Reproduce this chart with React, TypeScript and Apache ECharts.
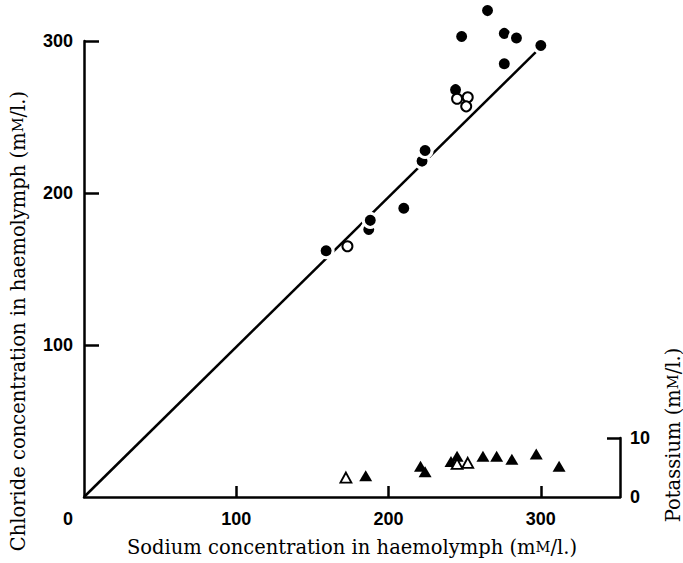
import { useEffect, useRef } from 'react';
import * as echarts from 'echarts';

// Tick values
const xTickValues = [100, 200, 300];
const xLabelValues = [0, 100, 200, 300];
const yTickValues = [100, 200, 300];
const kTickValues = [10];
const kLabelValues = [0, 10];

// Chloride vs sodium (filled circles)
const clFilledNa = [159, 187, 188, 210, 222, 224, 244, 248, 265, 276, 276, 284, 300];
const clFilledCl = [162, 176, 182, 190, 221, 228, 268, 303, 320, 285, 305, 302, 297];
// Chloride vs sodium (open circles)
const clOpenNa = [173, 245, 252, 251];
const clOpenCl = [165, 262, 263, 257];
// Potassium vs sodium (filled triangles)
const kFilledNa = [185, 221, 224, 241, 245, 262, 271, 281, 297, 312];
const kFilledK = [3.6, 5.2, 4.3, 6.0, 6.9, 6.9, 6.9, 6.4, 7.3, 5.2];
// Potassium vs sodium (open triangles)
const kOpenNa = [172, 245, 252];
const kOpenK = [3.3, 5.6, 5.8];
// Fitted line
const lineNa = [0, 297];
const lineCl = [0, 293];

const zip = (a: number[], b: number[]) => a.map((v, i) => [v, b[i]]);

const serif = "'DejaVu Serif', 'Liberation Serif', serif";
const numFont = "'Liberation Sans', Arial, sans-serif";

export default function App() {
  const ref = useRef<HTMLDivElement>(null);
  useEffect(() => {
    if (!ref.current) return;
    const chart = echarts.init(ref.current, undefined, { renderer: 'svg' });
    const axisLine = { show: true, onZero: false, lineStyle: { color: '#000', width: 2.5 } };
    const tickStyle = { color: '#000', width: 2.5 };
    const numLabel = { color: '#000', fontFamily: numFont, fontWeight: 'bold' as const, fontSize: 18 };
    const nameStyle = { color: '#000', fontFamily: serif, fontSize: 19.5 };
    const smallCap = { color: '#000', fontFamily: serif, fontSize: 14.5 };
    chart.setOption({
      animation: false,
      backgroundColor: '#fff',
      grid: [
        { left: 84, right: 63, top: 41, bottom: 66, containLabel: false, outerBoundsMode: 'none' },
        { left: 84, right: 63, top: 438, bottom: 66, containLabel: false, outerBoundsMode: 'none' },
      ],
      xAxis: [
        {
          type: 'value', gridIndex: 0, min: 0, max: 352, interval: 100,
          splitLine: { show: false },
          axisLine,
          axisTick: { show: true, inside: true, length: 11, customValues: xTickValues, lineStyle: tickStyle },
          axisLabel: {
            ...numLabel, margin: 13, customValues: xLabelValues,
            formatter: (v: number) => (v === 0 ? '{o|0}' : String(v)),
            rich: { o: { ...numLabel, padding: [0, 32, 0, 0] } },
          },
          name: 'Sodium concentration in haemolymph (m{sc|M}/l.)',
          nameLocation: 'middle', nameGap: 40,
          nameTextStyle: { ...nameStyle, rich: { sc: smallCap } },
        },
        { type: 'value', gridIndex: 1, min: 0, max: 352, show: false },
      ],
      yAxis: [
        {
          type: 'value', gridIndex: 0, min: 0, max: 300, interval: 100, position: 'left',
          splitLine: { show: false },
          axisLine,
          axisTick: { show: true, inside: true, length: 15, customValues: yTickValues, lineStyle: tickStyle },
          axisLabel: { ...numLabel, margin: 11, customValues: yTickValues },
          name: 'Chloride concentration in haemolymph (m{sc|M}/l.)',
          nameLocation: 'middle', nameGap: 56, nameRotate: 90,
          nameTextStyle: { ...nameStyle, padding: [0, 104, 0, 0], rich: { sc: smallCap } },
        },
        {
          type: 'value', gridIndex: 1, min: 0, max: 10, interval: 10, position: 'right',
          splitLine: { show: false },
          axisLine,
          axisTick: { show: true, inside: true, length: 13, customValues: kTickValues, lineStyle: tickStyle },
          axisLabel: { ...numLabel, margin: 10, customValues: kLabelValues },
          name: 'Potassium (m{sc|M}/l.)',
          nameLocation: 'middle', nameGap: 43, nameRotate: 90,
          nameTextStyle: { ...nameStyle, padding: [0, 0, 0, 65], rich: { sc: smallCap } },
        },
      ],
      series: [
        {
          type: 'line', xAxisIndex: 0, yAxisIndex: 0, data: zip(lineNa, lineCl),
          showSymbol: false, symbol: 'none', lineStyle: { color: '#000', width: 2.5 }, z: 1,
        },
        {
          type: 'scatter', xAxisIndex: 0, yAxisIndex: 0, data: zip(clFilledNa, clFilledCl), clip: false,
          symbol: 'circle', symbolSize: 14,
          itemStyle: { color: '#000', opacity: 1, borderColor: '#fff', borderWidth: 3 }, z: 3,
        },
        {
          type: 'scatter', xAxisIndex: 0, yAxisIndex: 0, data: zip(clOpenNa, clOpenCl), clip: false,
          symbol: 'circle', symbolSize: 10,
          itemStyle: { color: '#fff', opacity: 1, borderColor: '#000', borderWidth: 2 }, z: 4,
        },
        {
          type: 'scatter', xAxisIndex: 1, yAxisIndex: 1, data: zip(kFilledNa, kFilledK), clip: false,
          symbol: 'triangle', symbolSize: [13, 11],
          itemStyle: { color: '#000', opacity: 1 }, z: 3,
        },
        {
          type: 'scatter', xAxisIndex: 1, yAxisIndex: 1, data: zip(kOpenNa, kOpenK), clip: false,
          symbol: 'triangle', symbolSize: [11, 10],
          itemStyle: { color: '#fff', opacity: 1, borderColor: '#000', borderWidth: 1.8 }, z: 4,
        },
      ],
    });
    return () => chart.dispose();
  }, []);
  return <div ref={ref} style={{ position: 'fixed', left: 0, top: 0, width: 683, height: 563 }} />;
}
